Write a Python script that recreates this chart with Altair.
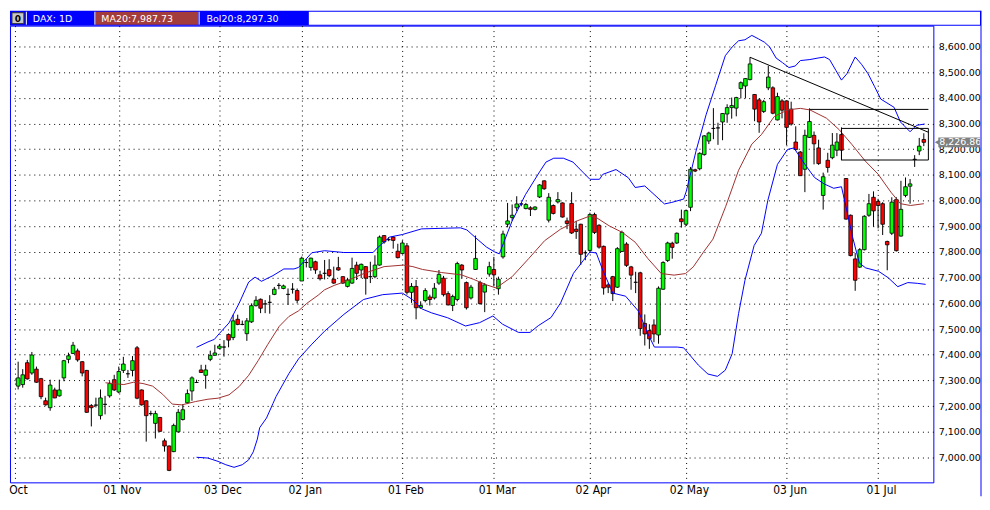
import altair as alt
import pandas as pd

# ---------------- data ----------------
opens = [7278, 7284, 7369, 7329, 7344, 7307, 7221, 7194, 7263, 7240,
         7310, 7382, 7405, 7415, 7373, 7339, 7202, 7204, 7163, 7207,
         7240, 7303, 7255, 7339, 7326, 7339, 7427, 7263, 7221, 7171,
         7133, 7156, 7065, 7045, 7023, 7100, 7148, 7213, 7259, 7292,
         7341, 7320, 7382, 7398, 7425, 7430, 7479, 7467, 7538, 7518,
         7482, 7528, 7591, 7616, 7598, 7604, 7635, 7670, 7658, 7635,
         7655, 7650, 7687, 7759, 7740, 7762, 7711, 7717, 7731, 7694,
         7739, 7704, 7666, 7679, 7749, 7730, 7743, 7704, 7704, 7749,
         7864, 7848, 7858, 7803, 7794, 7824, 7643, 7666, 7583, 7611,
         7625, 7621, 7679, 7698, 7638, 7592, 7615, 7749, 7681, 7621,
         7732, 7681, 7644, 7714, 7732, 7657, 7781, 7908, 7934, 7972,
         7987, 7969, 7972, 7966, 8014, 8077, 7924, 7981, 7995, 7991,
         7921, 7989, 7889, 7908, 7797, 7806, 7946, 7904, 7822, 7672,
         7704, 7663, 7802, 7831, 7742, 7682, 7719, 7522, 7494, 7516,
         7477, 7655, 7767, 7834, 7835, 7929, 7908, 7974, 8120, 8124,
         8179, 8232, 8281, 8283, 8306, 8337, 8362, 8360, 8436, 8446,
         8471, 8413, 8392, 8347, 8439, 8439, 8314, 8388, 8388, 8356,
         8228, 8189, 8122, 8246, 8254, 8205, 8020, 8157, 8167, 8196,
         8257, 8086, 7943, 7773, 7741, 7809, 7943, 8013, 7997, 7988,
         7841, 7873, 8004, 7862, 8020, 8056, 8161, 8193, 8238]
highs = [7373, 7344, 7380, 7411, 7354, 7310, 7233, 7303, 7272, 7303,
         7380, 7408, 7450, 7424, 7375, 7341, 7208, 7233, 7265, 7240,
         7297, 7322, 7354, 7392, 7341, 7395, 7434, 7265, 7223, 7182,
         7182, 7158, 7074, 7047, 7132, 7189, 7208, 7265, 7316, 7303,
         7361, 7361, 7416, 7439, 7441, 7457, 7483, 7556, 7556, 7533,
         7543, 7600, 7628, 7619, 7613, 7632, 7664, 7679, 7673, 7658,
         7679, 7658, 7782, 7772, 7778, 7766, 7727, 7769, 7772, 7743,
         7781, 7706, 7698, 7778, 7762, 7755, 7745, 7762, 7787, 7864,
         7866, 7858, 7862, 7832, 7845, 7835, 7679, 7691, 7608, 7659,
         7634, 7679, 7730, 7707, 7647, 7634, 7762, 7753, 7685, 7672,
         7864, 7688, 7679, 7762, 7781, 7704, 7883, 7991, 7985, 8017,
         7991, 7991, 7978, 7978, 8064, 8079, 8029, 7985, 8033, 7993,
         7934, 8033, 7921, 7910, 7806, 7953, 7953, 7908, 7825, 7679,
         7707, 7819, 7883, 7838, 7746, 7723, 7723, 7557, 7519, 7538,
         7666, 7764, 7840, 7840, 7876, 7965, 7965, 8131, 8124, 8188,
         8255, 8268, 8360, 8303, 8341, 8375, 8401, 8404, 8464, 8477,
         8558, 8415, 8398, 8392, 8525, 8445, 8420, 8395, 8390, 8385,
         8289, 8193, 8276, 8359, 8269, 8237, 8109, 8186, 8263, 8263,
         8285, 8088, 7946, 7796, 7815, 7943, 8026, 8036, 8007, 7994,
         7844, 8013, 8013, 8077, 8090, 8084, 8177, 8244, 8262]
lows = [7265, 7272, 7303, 7322, 7291, 7227, 7202, 7182, 7231, 7237,
        7297, 7367, 7403, 7373, 7316, 7174, 7121, 7195, 7148, 7168,
        7233, 7259, 7250, 7329, 7310, 7316, 7227, 7202, 7062, 7163,
        7074, 7100, 7023, 6947, 7021, 7097, 7144, 7208, 7221, 7290,
        7329, 7268, 7375, 7396, 7422, 7393, 7429, 7457, 7515, 7515,
        7454, 7524, 7588, 7562, 7562, 7560, 7632, 7655, 7655, 7594,
        7638, 7600, 7687, 7740, 7727, 7715, 7689, 7693, 7702, 7676,
        7727, 7676, 7662, 7676, 7691, 7698, 7634, 7679, 7698, 7747,
        7832, 7842, 7813, 7775, 7791, 7634, 7602, 7538, 7579, 7604,
        7592, 7615, 7672, 7627, 7592, 7570, 7608, 7698, 7576, 7615,
        7730, 7595, 7566, 7704, 7666, 7634, 7774, 7896, 7921, 7959,
        7978, 7966, 7940, 7962, 8010, 8042, 7915, 7946, 7989, 7934,
        7889, 7870, 7851, 7749, 7768, 7800, 7870, 7813, 7634, 7640,
        7609, 7660, 7800, 7742, 7653, 7640, 7474, 7436, 7423, 7449,
        7443, 7653, 7761, 7774, 7831, 7895, 7901, 7959, 8111, 8118,
        8175, 8220, 8239, 8217, 8235, 8303, 8319, 8328, 8398, 8398,
        8468, 8309, 8264, 8341, 8430, 8336, 8312, 8320, 8216, 8292,
        8195, 8097, 8033, 8244, 8141, 8139, 7965, 8109, 8161, 8173,
        8157, 7926, 7783, 7649, 7738, 7806, 7937, 7898, 7892, 7866,
        7729, 7866, 7802, 7860, 8013, 7988, 8131, 8177, 8212]
closes = [7310, 7322, 7306, 7399, 7293, 7237, 7205, 7282, 7232, 7263,
          7377, 7396, 7437, 7380, 7329, 7176, 7194, 7204, 7232, 7207,
          7288, 7263, 7335, 7364, 7326, 7377, 7231, 7205, 7163, 7171,
          7171, 7102, 7045, 6950, 7125, 7176, 7186, 7249, 7310, 7292,
          7331, 7341, 7398, 7407, 7434, 7430, 7457, 7532, 7518, 7518,
          7532, 7591, 7612, 7581, 7598, 7604, 7655, 7670, 7668, 7635,
          7655, 7612, 7776, 7759, 7776, 7730, 7696, 7717, 7708, 7679,
          7730, 7679, 7691, 7736, 7717, 7752, 7698, 7704, 7749, 7858,
          7839, 7848, 7845, 7778, 7835, 7643, 7666, 7583, 7592, 7650,
          7615, 7659, 7713, 7634, 7594, 7627, 7755, 7730, 7583, 7663,
          7775, 7599, 7672, 7743, 7711, 7694, 7870, 7921, 7943, 7987,
          7987, 7985, 7966, 7975, 8061, 8046, 8013, 7950, 8004, 7936,
          7911, 7874, 7880, 7791, 7797, 7946, 7876, 7819, 7660, 7663,
          7638, 7813, 7876, 7748, 7710, 7682, 7502, 7481, 7462, 7481,
          7659, 7759, 7835, 7818, 7873, 7918, 7961, 8122, 8115, 8184,
          8252, 8263, 8281, 8283, 8339, 8362, 8370, 8401, 8459, 8475,
          8532, 8356, 8306, 8385, 8481, 8340, 8405, 8352, 8285, 8298,
          8199, 8097, 8254, 8308, 8221, 8144, 8093, 8129, 8216, 8228,
          8196, 7928, 7786, 7690, 7809, 7939, 7988, 7960, 7981, 7908,
          7828, 7994, 7805, 7966, 8054, 8065, 8160, 8212, 8226.86]

# 20-day moving average
ma_idx = [20.1, 24.1, 26.2, 28.3, 30.4, 32.6, 34.7, 36.8, 39.8, 42.5,
          44.7, 47.1, 49.3, 51.4, 53.5, 55.6, 58.1, 60.2, 62.3, 64.1,
          66.6, 68.0, 70.1, 72.5, 76.7, 81.0, 85.2, 87.3, 89.4, 93.6,
          97.9, 100.5, 103.4, 105.5, 109.0, 112.6, 116.1, 119.6, 123.2, 126.0,
          127.4, 130.2, 133.1, 135.9, 138.7, 141.6, 144.4, 146.9, 148.6, 150.8,
          152.9, 155.7, 158.5, 161.4, 163.5, 166.3, 169.2, 172.0, 174.1, 177.7,
          180.5, 183.3, 186.2, 189.0, 191.8, 193.9, 196.1, 199.0]
ma_val = [7291, 7284, 7293, 7288, 7278, 7246, 7208, 7205, 7218, 7227,
          7231, 7244, 7276, 7320, 7378, 7441, 7511, 7549, 7571, 7600,
          7632, 7653, 7670, 7685, 7717, 7743, 7749, 7743, 7732, 7720,
          7711, 7694, 7672, 7660, 7704, 7774, 7844, 7889, 7921, 7940,
          7934, 7902, 7876, 7838, 7774, 7716, 7710, 7716, 7742, 7799,
          7850, 7978, 8118, 8220, 8257, 8327, 8353, 8359, 8353, 8321,
          8276, 8218, 8154, 8103, 8033, 7988, 7981, 7988]

# Bollinger upper band
up_idx = [40.0, 42.5, 43.9, 45.0, 47.1, 49.3, 51.4, 52.8, 54.2, 56.7,
          59.1, 61.3, 62.3, 65.2, 68.0, 72.2, 78.6, 79.7, 82.2, 85.0,
          89.2, 97.7, 99.1, 101.3, 103.4, 105.2, 106.2, 109.0, 111.9, 115.0,
          116.4, 118.1, 120.2, 122.3, 124.6, 126.0, 128.1, 128.8, 131.7, 134.4,
          135.9, 138.0, 142.3, 143.9, 146.5, 147.1, 149.2, 151.4, 153.5, 155.6,
          157.1, 158.5, 159.9, 161.4, 162.8, 164.2, 165.3, 166.7, 168.1, 169.5,
          170.9, 172.0, 174.1, 175.9, 177.3, 178.4, 179.8, 181.0, 182.2, 184.0,
          185.4, 186.8, 188.2, 189.6, 192.5, 193.9, 196.0, 197.4, 199.2]
up_val = [7429, 7450, 7460, 7483, 7524, 7600, 7683, 7702, 7686, 7708,
          7734, 7734, 7740, 7797, 7805, 7798, 7798, 7819, 7858, 7868,
          7890, 7894, 7886, 7851, 7819, 7800, 7793, 7921, 8023, 8112,
          8150, 8165, 8165, 8150, 8108, 8083, 8083, 8102, 8121, 8089,
          8051, 8057, 7987, 7993, 8006, 8038, 8193, 8334, 8449, 8564,
          8598, 8622, 8626, 8643, 8630, 8616, 8598, 8555, 8537, 8518,
          8524, 8545, 8549, 8555, 8559, 8549, 8506, 8469, 8494, 8559,
          8530, 8494, 8445, 8395, 8363, 8306, 8268, 8293, 8298]

# Bollinger lower band
lo_idx = [40.0, 42.5, 44.7, 46.4, 48.2, 50.0, 51.4, 52.4, 53.3, 53.8,
          55.3, 56.7, 57.4, 60.2, 62.3, 65.2, 68.0, 72.2, 76.5, 80.7,
          85.0, 87.2, 89.2, 91.4, 94.9, 98.8, 101.9, 104.8, 106.9, 110.4,
          112.9, 114.7, 117.5, 119.6, 122.4, 124.6, 126.0, 127.4, 128.8, 131.0,
          133.8, 136.6, 138.7, 140.1, 145.1, 146.5, 147.6, 149.7, 151.8, 153.9,
          155.6, 157.1, 158.5, 159.9, 161.9, 163.5, 164.9, 167.0, 169.2, 170.6,
          173.0, 175.1, 177.2, 179.3, 181.0, 182.0, 183.4, 184.9, 186.3, 189.1,
          191.2, 193.3, 195.5, 197.6, 199.4]
lo_val = [7001, 6998, 6985, 6972, 6962, 6972, 6991, 7022, 7072, 7116,
          7154, 7210, 7238, 7327, 7384, 7441, 7492, 7557, 7615, 7634,
          7640, 7615, 7579, 7563, 7544, 7512, 7525, 7551, 7519, 7487,
          7487, 7513, 7545, 7602, 7717, 7768, 7800, 7796, 7730, 7640,
          7628, 7570, 7481, 7430, 7430, 7427, 7404, 7360, 7325, 7316,
          7340, 7404, 7560, 7690, 7825, 7873, 8001, 8141, 8199, 8205,
          8141, 8090, 8065, 8048, 8054, 7975, 7860, 7757, 7738, 7725,
          7700, 7665, 7681, 7678, 7674]

# drawn objects (trend line, resistance line, range box)
trend_idx = [161, 200]
trend_val = [8558, 8266]
hline_idx = [174, 200]
hline_val = [8355, 8355]
box_idx = [181, 200]
box_val = [8158, 8281]
last_price = 8226.86

tick_idx = [0.3, 23, 45, 63, 85, 105, 126, 147, 169, 189]
tick_lbl = ["Oct", "01 Nov", "03 Dec", "02 Jan", "01 Feb", "01 Mar",
            "02 Apr", "02 May", "03 Jun", "01 Jul"]
y_ticks = list(range(7000, 8601, 100))
header_texts = ["DAX: 1D", "MA20:7,987.73", "Bol20:8,297.30"]

# ---------------- chart ----------------
W, H = 930, 460
X_DOM = [0.3, 200.0]
Y_DOM = [6903.4, 8681.0]
BLUE = "#0000ff"
FONT = "DejaVu Sans"

candles = pd.DataFrame({
    "i": list(range(1, len(opens) + 1)),
    "open": opens, "high": highs, "low": lows, "close": closes,
})
candles["dir"] = ["up" if c >= o else "down" for o, c in zip(opens, closes)]

xs = alt.Scale(domain=X_DOM, nice=False, zero=False)
ys = alt.Scale(domain=Y_DOM, nice=False, zero=False)

lbl_expr = "[" + ",".join("'%s'" % t for t in tick_lbl) + "][indexof([" + \
    ",".join(str(v) for v in tick_idx) + "], datum.value)]"

x_axis = alt.Axis(values=tick_idx, labelExpr=lbl_expr, grid=True, gridDash=[1, 4],
                  gridColor="#000000", gridWidth=1, ticks=False, tickSize=0, domain=False,
                  labelFont="Liberation Sans Narrow, DejaVu Sans Condensed, Liberation Sans",
                  labelFontSize=12, labelColor="#000000", labelPadding=2,
                  labelFlush=True, labelOffset=3, labelOverlap=False, title=None)
y_axis = alt.Axis(orient="right", values=y_ticks, format=",.2f", grid=True,
                  gridDash=[1, 4], gridColor="#000000", gridWidth=1, ticks=False,
                  tickSize=0, domain=False, labelFont=FONT, labelFontSize=9.5,
                  labelColor="#000000", labelPadding=5, labelBaseline="middle",
                  title=None)


def X(field):
    return alt.X(field, scale=xs, axis=x_axis)


def Y(field):
    return alt.Y(field, scale=ys, axis=y_axis)


wicks = alt.Chart(candles).mark_rule(color="black", strokeWidth=1).encode(
    x=X("i:Q"), y=Y("low:Q"), y2="high:Q",
)
bodies = alt.Chart(candles).mark_bar(size=3.6, stroke="black", strokeWidth=0.8).encode(
    x=X("i:Q"), y=Y("open:Q"), y2="close:Q",
    color=alt.Color("dir:N", scale=alt.Scale(domain=["up", "down"],
                                             range=["#00ff00", "#ff0000"]), legend=None),
)


def line(idx, val, color):
    return alt.Chart(pd.DataFrame({"i": idx, "v": val})).mark_line(
        color=color, strokeWidth=1).encode(x=X("i:Q"), y=Y("v:Q"))


ma_line = line(ma_idx, ma_val, "#a03030")
up_line = line(up_idx, up_val, BLUE)
lo_line = line(lo_idx, lo_val, BLUE)
trend = line(trend_idx, trend_val, "black")
hline = line(hline_idx, hline_val, "black")

box = alt.Chart(pd.DataFrame({"i0": [box_idx[0]], "i1": [box_idx[1]],
                              "v0": [box_val[0]], "v1": [box_val[1]]})).mark_rect(
    fill="transparent", stroke="black", strokeWidth=1).encode(
    x=X("i0:Q"), x2="i1:Q", y=Y("v0:Q"), y2="v1:Q",
)

# price tag on the right axis
tag_df = pd.DataFrame({"p": [last_price]})
tag_box = alt.Chart(tag_df).transform_calculate(
    lo="datum.p - 19", hi="datum.p + 19").mark_rect(color="#808080").encode(
    x=alt.value(W + 5), x2=alt.value(W + 47), y=Y("lo:Q"), y2="hi:Q",
)
tag_tri = alt.Chart(tag_df).mark_point(shape="triangle-left", filled=True,
                                       color="#808080", opacity=1, size=70).encode(
    x=alt.value(W + 5), y=Y("p:Q"),
)
tag_txt = alt.Chart(tag_df).mark_text(color="white", align="left", baseline="middle",
                                      font=FONT, fontSize=9.5).encode(
    x=alt.value(W + 6), y=Y("p:Q"), text=alt.Text("p:Q", format=",.2f"),
)

# header strip
one = pd.DataFrame({"k": [0]})
hdr_bar = alt.Chart(one).mark_rect(color=BLUE).encode(
    x=alt.value(0), x2=alt.value(W + 48), y=alt.value(-15), y2=alt.value(0))
hdr_white = alt.Chart(one).mark_rect(color="white").encode(
    x=alt.value(301), x2=alt.value(W + 47), y=alt.value(-14), y2=alt.value(-1))
icon = alt.Chart(one).mark_rect(fill="#c8c8c8", stroke="#303030", strokeWidth=1).encode(
    x=alt.value(2), x2=alt.value(14), y=alt.value(-13), y2=alt.value(-2))
icon_txt = alt.Chart(pd.DataFrame({"t": ["0"]})).mark_text(
    color="black", fontWeight="bold", font=FONT, fontSize=9, baseline="middle").encode(
    x=alt.value(8), y=alt.value(-7), text="t:N")
red_box = alt.Chart(one).mark_rect(color="#a33c3c").encode(
    x=alt.value(86), x2=alt.value(189.5), y=alt.value(-14), y2=alt.value(-1))
seps = [alt.Chart(one).mark_rule(color="white", strokeWidth=1).encode(
    x=alt.value(sx), y=alt.value(-14), y2=alt.value(-1)) for sx in (16.5, 85.5, 190.5)]
hdr_txt = [alt.Chart(pd.DataFrame({"t": [t]})).mark_text(
    color="white", align="left", baseline="middle", font=FONT, fontSize=9.5).encode(
    x=alt.value(px), y=alt.value(-7), text="t:N")
    for t, px in zip(header_texts, (23, 92, 198))]
right_frame = alt.Chart(one).mark_rule(color=BLUE, strokeWidth=1).encode(
    x=alt.value(W + 48), y=alt.value(-15), y2=alt.value(H + 14))

chart = alt.layer(
    wicks, bodies, ma_line, up_line, lo_line, trend, hline, box,
    tag_box, tag_tri, tag_txt,
    hdr_bar, hdr_white, icon, icon_txt, red_box, *seps, *hdr_txt, right_frame,
).properties(
    width=W, height=H, padding=0, background="white",
).configure_view(
    stroke=BLUE, strokeWidth=1, fill="white",
)

chart.save("out.html", embed_options={"renderer": "svg", "actions": False})
